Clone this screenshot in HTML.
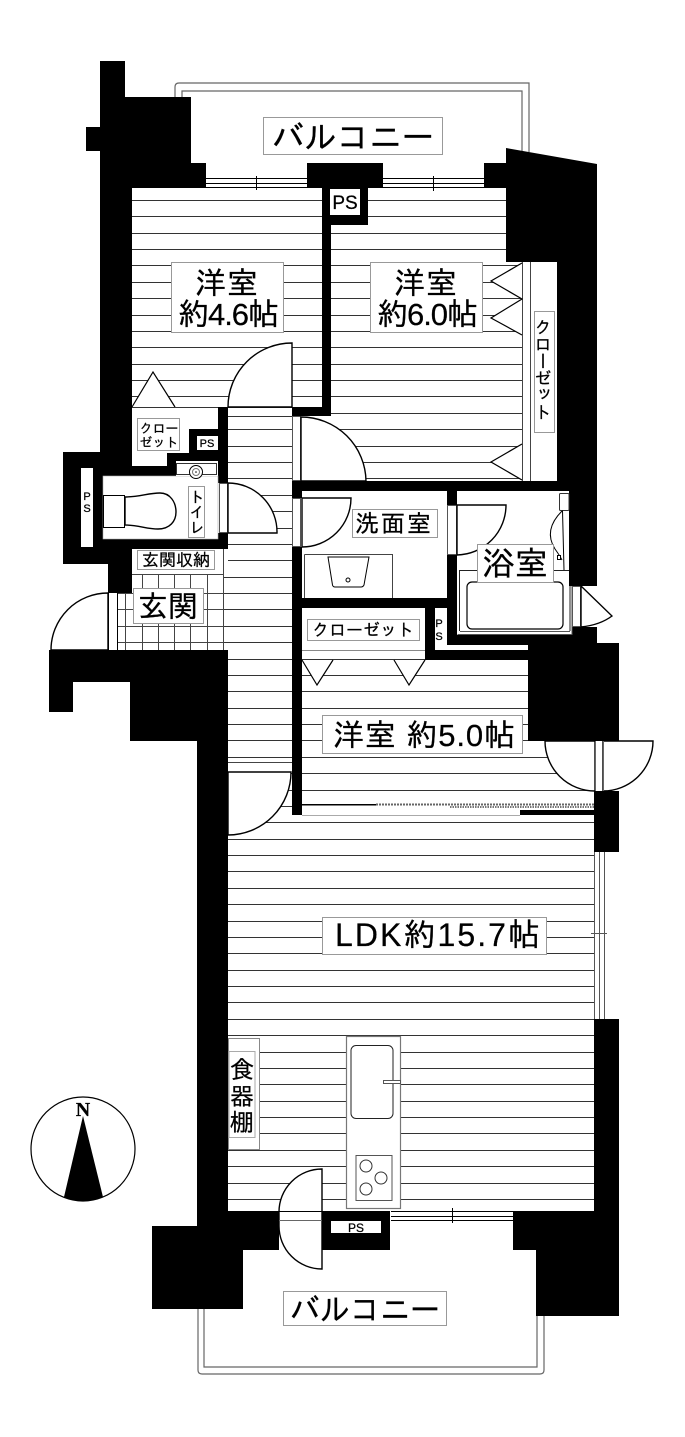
<!DOCTYPE html>
<html lang="ja"><head><meta charset="utf-8"><title>間取り図</title>
<style>
html,body{margin:0;padding:0;background:#fff}
svg{display:block}
text{font-family:"Liberation Sans","IPAGothic","Noto Sans CJK JP",sans-serif;fill:#000;stroke:#000;stroke-width:.25}
.b{fill:#fff;stroke:#999;stroke-width:1}
.d{fill:#fff;stroke:#000;stroke-width:1.4}
.g{fill:none;stroke:#666;stroke-width:1.2}
.w{fill:#fff;stroke:#555;stroke-width:1}
.l{fill:none;stroke:#000;stroke-width:1}
</style></head><body>
<svg width="685" height="1437" viewBox="0 0 685 1437" xmlns="http://www.w3.org/2000/svg">
<rect width="685" height="1437" fill="#fff"/>
<defs><clipPath id="rooms">
<path d="M132 188H322V407H132Z"/>
<path d="M368 188H506V262H522V481H301V416H331V225H368Z"/>
<path d="M228 416H292V815H594V1211H228Z"/>
<path d="M224 574H292V650H224Z"/>
<path d="M302 659H528V741H594V803H302Z"/>
</clipPath></defs>

<!-- balconies -->
<path class="g" d="M175 100V87Q175 83 179 83H529V152M182 100V91H522V152"/>
<path class="g" d="M198 1305V1370Q198 1374 202 1374H540Q544 1374 544 1370V1312M204 1305V1367H537V1312"/>

<!-- floor lines -->
<path clip-path="url(#rooms)" fill="none" stroke="#333" stroke-width="1" d="M120 200.5H600M120 216.5H600M120 233.5H600M120 249.5H600M120 265.5H600M120 282.5H600M120 298.5H600M120 315.5H600M120 331.5H600M120 347.5H600M120 364.5H600M120 380.5H600M120 396.5H600M120 413.5H600M120 429.5H600M120 446.5H600M120 462.5H600M120 478.5H600M120 495.5H600M120 511.5H600M120 528.5H600M120 544.5H600M120 560.5H600M120 577.5H600M120 593.5H600M120 609.5H600M120 626.5H600M120 642.5H600M120 659.5H600M120 675.5H600M120 691.5H600M120 708.5H600M120 724.5H600M120 740.5H600M120 757.5H600M120 773.5H600M120 790.5H600M120 806.5H600M120 822.5H600M120 839.5H600M120 855.5H600M120 871.5H600M120 888.5H600M120 904.5H600M120 921.5H600M120 937.5H600M120 953.5H600M120 970.5H600M120 986.5H600M120 1002.5H600M120 1019.5H600M120 1035.5H600M120 1052.5H600M120 1068.5H600M120 1084.5H600M120 1101.5H600M120 1117.5H600M120 1133.5H600M120 1150.5H600M120 1166.5H600M120 1183.5H600M120 1199.5H600"/>

<!-- closets and white areas -->
<rect x="522" y="262" width="35" height="219" fill="#fff"/>
<path d="M522.5 262V481M530.5 262V481" stroke="#444" fill="none"/>
<path fill="#fff" stroke="#000" stroke-width="1.2" d="M522 263L491 281L522 299L491 318L522 335"/>
<path fill="#fff" stroke="#000" stroke-width="1.2" d="M522 444L491 462L522 480"/>
<path fill="#fff" stroke="#000" stroke-width="1.2" d="M132 407L153 372L175 407"/>
<path fill="none" stroke="#333" d="M132 407.5H218M228 407.5H292M228 416.5H292"/>

<!-- genkan tile -->
<path fill="none" stroke="#444" d="M117.5 593V650M125.5 574V650M142.5 574V650M158.5 574V650M174.5 574V650M190.5 574V650M207.5 574V650M223.5 549V650M117 593.5H224M117 609.5H224M117 626.5H224M117 642.5H224M132 574.5H224"/>
<path fill="none" stroke="#000" d="M108.5 593V650M117.5 593V650"/>

<!-- walls -->
<g fill="#000">
<rect x="100" y="61" width="25" height="36"/>
<rect x="100" y="97" width="91" height="66"/>
<rect x="100" y="163" width="106" height="25"/>
<rect x="100" y="188" width="32" height="264"/>
<rect x="86" y="127" width="14" height="24"/>
<rect x="63" y="452" width="69" height="24"/>
<rect x="63" y="476" width="40" height="73"/>
<rect x="63" y="539" width="165" height="10"/>
<rect x="63" y="549" width="69" height="15"/>
<rect x="108" y="564" width="24" height="29"/>
<rect x="132" y="466" width="96" height="10"/>
<rect x="167" y="453" width="61" height="13"/>
<rect x="189" y="429" width="39" height="24"/>
<rect x="218" y="407" width="10" height="76"/>
<rect x="218" y="533" width="10" height="16"/>
<rect x="307" y="163" width="76" height="25"/>
<rect x="322" y="188" width="46" height="37"/>
<rect x="322" y="225" width="9" height="191"/>
<rect x="292" y="407" width="39" height="9"/>
<rect x="484" y="163" width="22" height="25"/>
<path d="M506 148L597 164V586H569V491H557V262H506Z"/>
<rect x="292" y="481" width="277" height="10"/>
<rect x="292" y="481" width="10" height="17"/>
<rect x="292" y="547" width="10" height="268"/>
<rect x="292" y="598" width="155" height="10"/>
<rect x="447" y="491" width="10" height="14"/>
<rect x="447" y="555" width="10" height="90"/>
<rect x="447" y="635" width="125" height="10"/>
<rect x="572" y="627" width="25" height="16"/>
<rect x="425" y="608" width="10" height="52"/>
<rect x="425" y="650" width="103" height="10"/>
<path d="M528 643H619V741H528Z"/>
<rect x="594" y="791" width="25" height="61"/>
<path d="M49 650H228V1211H279V1250H243V1309H152V1226H197V741H130V682H73V712H49Z"/>
<rect x="322" y="1211" width="68" height="39"/>
<path d="M513 1211H594V1019H619V1316H536V1250H513Z"/>
</g>
<rect x="81" y="468" width="12" height="79" fill="#fff"/>
<rect x="103" y="476" width="115" height="63" fill="#fff" stroke="#aaa" stroke-width=".6"/>
<rect x="176" y="461" width="42" height="15" fill="#fff"/>
<rect x="197" y="436" width="21" height="14" fill="#fff"/>
<rect x="330" y="189" width="30" height="26" fill="#fff"/>
<rect x="435" y="608" width="12" height="42" fill="#fff"/>
<rect x="435" y="645" width="93" height="5" fill="#fff"/>
<rect x="331" y="1221" width="50" height="12" fill="#fff"/>
<path stroke="#888" d="M302 650.5H425" fill="none"/>

<!-- door frames -->
<rect class="w" x="219.5" y="483.5" width="8" height="49"/>
<rect class="w" x="292.5" y="416.5" width="8" height="64"/>
<rect class="w" x="292.5" y="498.5" width="8" height="48"/>
<rect class="w" x="447.5" y="505.5" width="9" height="49"/>

<!-- windows -->
<path fill="#fff" stroke="none" d="M206 178H307V188H206ZM383 178H484V188H383ZM391 1211H513V1221H391ZM594 852H604V1019H594Z"/>
<path class="l" d="M206 178.5H307M206 183.5H307M206 187.5H307M256.5 176V190M383 178.5H484M383 183.5H484M383 187.5H484M433.5 176V191M391 1211.5H513M391 1216.5H513M391 1220.5H513M452.5 1208V1223"/>
<path fill="none" stroke="#555" d="M594.5 852V1019M599.5 852V1019M604.5 852V1019M591 933.5H607"/>

<!-- doors -->
<path class="d" d="M292 407V343A64 64 0 0 0 228 407Z"/>
<path class="d" d="M301 417A65 65 0 0 1 366 481H301Z"/>
<path class="d" d="M228 483A49 49 0 0 1 277 533H228Z"/>
<path class="d" d="M302 547A49 49 0 0 0 351 498H302Z"/>
<path class="d" d="M457 505H506A50 50 0 0 1 457 555Z"/>
<path class="d" d="M108 593A57 57 0 0 0 51 650H108Z"/>
<path class="d" d="M228 835A63 63 0 0 0 291 772H228Z"/>
<path fill="none" stroke="#444" d="M228 762.5H292"/>
<path class="d" d="M545 741H595V791A50 50 0 0 1 545 741Z"/>
<path class="d" d="M653 741H603V791A50 50 0 0 0 653 741Z"/>
<path fill="#fff" stroke="#666" d="M595.5 741V791M603.5 741V791"/>
<path class="d" d="M322 1169A43 43 0 0 0 279 1212V1226A43 43 0 0 0 322 1269Z"/>
<path class="l" d="M279 1211.5H322"/><path fill="none" stroke="#666" d="M279 1220.5H322"/>
<rect class="w" x="572.5" y="586.5" width="8" height="40"/>
<path class="d" d="M581 586L612 616Q600 625 581 627Z"/>

<!-- sliding door -->
<rect x="302" y="803" width="292" height="12" fill="#fff"/>
<rect x="302" y="804" width="74" height="1.500" fill="#000"/>
<path fill="none" stroke="#666" stroke-width="2" stroke-dasharray="2 1" d="M376 804.500H594"/>
<path fill="none" stroke="#777" stroke-width="2" stroke-dasharray="1.500 1" d="M450 807H594"/>
<rect x="520" y="810" width="74" height="5" fill="#000"/>
<path stroke="#aaa" d="M302 815.500H520" fill="none"/>

<!-- toilet -->
<rect x="176.500" y="463.500" width="40" height="11" fill="#fff" stroke="#333"/>
<circle cx="196" cy="472" r="6.500" fill="#fff" stroke="#000"/><circle cx="196" cy="472" r="3.500" fill="#fff" stroke="#777"/>
<circle cx="196" cy="472" r=".8" fill="#000"/>
<rect x="103.500" y="495.500" width="21" height="32" fill="#fff" stroke="#000"/>
<path class="d" stroke-width="1" d="M125 497C140 497 148 493 160 493C170 493 176 502 176 512C176 521 170 529 158 529C147 529 138 525 125 525Z"/>

<!-- wash -->
<path fill="none" stroke="#444" d="M304.500 554.500H392.500V598M304.500 554.500V598"/>
<path fill="#fff" stroke="#000" d="M328 557H369L364 585Q363 587 361 587H335Q333 587 332.500 585Z"/>
<circle cx="348" cy="580" r="2" fill="#fff" stroke="#000"/>

<!-- bath -->
<path fill="#fff" stroke="#555" d="M457.500 634.500H572V586M460 631.500H570"/>
<path fill="none" stroke="#222" d="M459.500 631V570.500H477M553 570.500H569M570 586V631"/>
<rect x="467" y="582" width="96" height="47" rx="5" fill="#fff" stroke="#000" stroke-width="1.200"/>
<rect x="559.500" y="493.500" width="9.500" height="17" rx="1" fill="#fff" stroke="#333"/>
<path class="l" d="M562.500 510.500L564 570M562 511Q543 530 555 549Q560 556 562 560"/>
<rect x="557.500" y="555.500" width="3" height="4" fill="#fff" stroke="#000"/>

<!-- kitchen -->
<rect x="346.500" y="1036.500" width="54" height="172" fill="#fff" stroke="#777" stroke-width="1.200"/>
<rect x="351" y="1045.500" width="42" height="73" rx="5" fill="#fff" stroke="#222"/>
<rect x="383.500" y="1080.500" width="17" height="3" fill="#fff" stroke="#555"/>
<rect x="356" y="1155.500" width="36" height="45" fill="#fff" stroke="#555"/>
<circle cx="366" cy="1166" r="6" fill="#fff" stroke="#333"/>
<circle cx="381" cy="1178" r="6" fill="#fff" stroke="#333"/>
<circle cx="366" cy="1189" r="6" fill="#fff" stroke="#333"/>

<!-- shelf -->
<rect x="228.500" y="1038.500" width="31" height="111" fill="#fff" stroke="#888"/>
<rect x="229" y="1051.500" width="26" height="86" fill="#fff" stroke="#aaa"/>
<text x="242" y="1078" font-size="24" text-anchor="middle">食</text>
<text x="242" y="1105" font-size="24" text-anchor="middle">器</text>
<text x="242" y="1131" font-size="24" text-anchor="middle">棚</text>

<!-- compass -->
<circle cx="83" cy="1149" r="52" fill="#fff" stroke="#000" stroke-width="1.200"/>
<path d="M83 1116L103 1197Q83 1205 64 1197Z" fill="#000"/>
<text x="83" y="1116" font-size="20" font-weight="700" text-anchor="middle" style="font-family:'Liberation Serif',serif">N</text>

<!-- labels -->
<rect class="b" x="263.500" y="117.500" width="179" height="37"/>
<text x="353" y="149" font-size="33" text-anchor="middle" textLength="162" lengthAdjust="spacingAndGlyphs">バルコニー</text>
<rect class="b" x="283.500" y="1291.500" width="163" height="34"/>
<text x="365" y="1321" font-size="32" text-anchor="middle" textLength="150" lengthAdjust="spacingAndGlyphs">バルコニー</text>

<rect class="b" x="171.500" y="262.500" width="112" height="70"/>
<text x="227" y="294" font-size="31" text-anchor="middle" letter-spacing="1">洋室</text>
<text x="178" y="325" font-size="31" textLength="101">約4.6帖</text>
<rect class="b" x="370.500" y="262.500" width="112" height="70"/>
<text x="426" y="294" font-size="31" text-anchor="middle" letter-spacing="1">洋室</text>
<text x="377" y="325" font-size="31" textLength="101">約6.0帖</text>

<rect class="b" x="534.500" y="311.500" width="20" height="121"/>
<text x="543" y="318" font-size="17" style="writing-mode:vertical-rl" text-anchor="start">クローゼット</text>

<rect class="b" x="137.500" y="418.500" width="42" height="32"/>
<text x="159" y="433" font-size="13" text-anchor="middle">クロー</text>
<text x="159" y="447" font-size="13" text-anchor="middle">ゼット</text>
<text x="207" y="447" font-size="11" text-anchor="middle">PS</text>
<text x="87" y="500" font-size="11" text-anchor="middle">P</text>
<text x="87" y="512" font-size="11" text-anchor="middle">S</text>

<rect class="b" x="188.500" y="486.500" width="16" height="51"/>
<text x="196" y="489" font-size="15" style="writing-mode:vertical-rl">トイレ</text>

<rect class="b" x="137.500" y="550.500" width="77" height="19"/>
<text x="176" y="566" font-size="17" text-anchor="middle">玄関収納</text>
<rect class="b" x="133.500" y="588.500" width="70" height="35"/>
<text x="168" y="617" font-size="30" text-anchor="middle">玄関</text>

<rect class="b" x="352.500" y="509.500" width="85" height="28"/>
<text x="394" y="532" font-size="24" text-anchor="middle" letter-spacing="2">洗面室</text>
<rect class="b" x="477.500" y="544.500" width="76" height="38"/>
<text x="515" y="575" font-size="33" text-anchor="middle">浴室</text>

<rect class="b" x="307.500" y="619.500" width="112" height="21"/>
<text x="363" y="636" font-size="17" text-anchor="middle">クローゼット</text>
<text x="439" y="627" font-size="11" text-anchor="middle">P</text>
<text x="439" y="640" font-size="11" text-anchor="middle">S</text>

<path fill="#fff" stroke="#000" stroke-width="1.200" d="M302 660L317 685L333 660M394 660L409 685L425 660"/>
<rect class="b" x="322.500" y="715.500" width="200" height="38"/>
<text x="333" y="746" font-size="31" textLength="182">洋室 約5.0帖</text>
<rect class="b" x="322.500" y="917.500" width="224" height="37"/>
<text x="335" y="946" font-size="32" textLength="205">LDK約15.7帖</text>

<text x="345" y="209" font-size="19" text-anchor="middle">PS</text>
<text x="356" y="1232" font-size="12" text-anchor="middle">PS</text>
</svg>
</body></html>
